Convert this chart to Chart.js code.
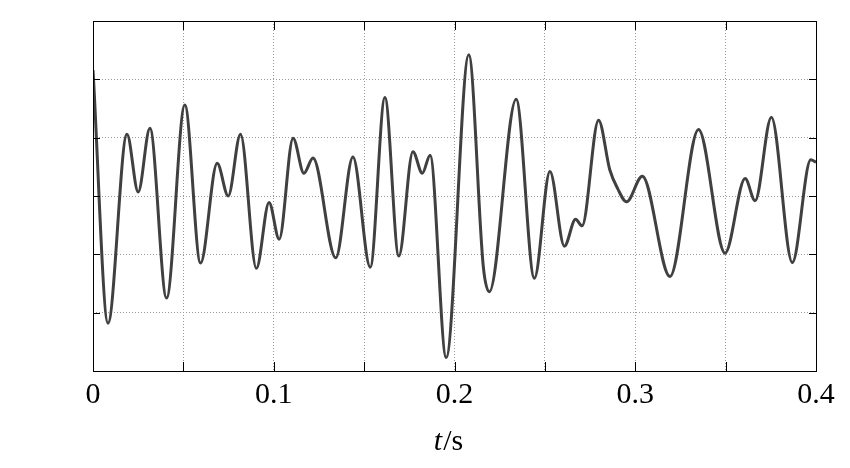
<!DOCTYPE html>
<html>
<head>
<meta charset="utf-8">
<script src="https://cdn.jsdelivr.net/npm/chart.js@4.4.1/dist/chart.umd.min.js"></script>
<style>
  html, body { margin: 0; padding: 0; background: #fff; }
  #wrap { width: 850px; height: 468px; }
</style>
</head>
<body>
<div id="wrap"><canvas id="chart"></canvas></div>
<script>
  // time (s) of each read-off point and signal value (grid units, no labels on y)
  var times = [0, 0.0083, 0.0188, 0.0250, 0.0315, 0.0407, 0.0508, 0.0595, 0.0687, 0.0748,
               0.0816, 0.0904, 0.0974, 0.1030, 0.1107, 0.1167, 0.1217, 0.1343, 0.1438, 0.1534,
               0.1615, 0.1692, 0.1770, 0.1822, 0.1865, 0.1954, 0.2079, 0.2160, 0.2193, 0.2341,
               0.2442, 0.2528, 0.2608, 0.2670, 0.2706, 0.2797, 0.2859, 0.2902, 0.2952, 0.3039,
               0.3192, 0.3350, 0.3497, 0.3608, 0.3663, 0.3753, 0.3869, 0.3971, 0.4];
  var values = [2.16, -2.18, 1.06, 0.07, 1.16, -1.75, 1.56, -1.15, 0.56, 0.0,
                1.06, -1.24, -0.11, -0.74, 0.99, 0.39, 0.65, -1.06, 0.67, -1.22,
                1.69, -1.03, 0.76, 0.39, 0.70, -2.77, 2.42, -1.23, -1.64, 1.66,
                -1.41, 0.42, -0.86, -0.40, -0.51, 1.30, 0.45, 0.13, -0.10, 0.34,
                -1.38, 1.14, -0.98, 0.30, -0.08, 1.35, -1.14, 0.62, 0.58];
  var xTicks = [0, 0.05, 0.1, 0.15, 0.2, 0.25, 0.3, 0.35, 0.4];
  var xLabels = ["0", "", "0.1", "", "0.2", "", "0.3", "", "0.4"];
  var yTicks = [-3, -2, -1, 0, 1, 2, 3];

  var points = [];
  for (var i = 0; i < times.length; i++) {
      points.push({x: times[i], y: values[i]});
  }

  var serif = '"Liberation Serif", "Times New Roman", serif';

  // box, inward ticks and the axis title
  var framePlugin = {
      id: "frame",
      afterDraw: function(chart) {
          var ctx = chart.ctx;
          var a = chart.chartArea;
          var xs = chart.scales.x, ys = chart.scales.y;
          ctx.save();
          ctx.strokeStyle = "#000";
          ctx.lineWidth = 1;
          ctx.setLineDash([]);
          ctx.beginPath();
          xTicks.forEach(function(t) {
              var px = Math.round(xs.getPixelForValue(t)) + 0.5;
              ctx.moveTo(px, a.bottom); ctx.lineTo(px, a.bottom - 9);
              ctx.moveTo(px, a.top); ctx.lineTo(px, a.top + 9);
          });
          yTicks.forEach(function(v) {
              var py = Math.round(ys.getPixelForValue(v)) + 0.5;
              ctx.moveTo(a.left, py); ctx.lineTo(a.left + 7, py);
              ctx.moveTo(a.right, py); ctx.lineTo(a.right - 7, py);
          });
          ctx.stroke();
          ctx.strokeRect(Math.round(a.left) + 0.5, Math.round(a.top) + 0.5,
                         Math.round(a.right - a.left), Math.round(a.bottom - a.top));

          ctx.fillStyle = "#000";
          ctx.textBaseline = "alphabetic";
          ctx.textAlign = "left";
          ctx.font = "italic 30px " + serif;
          var w1 = ctx.measureText("t").width;
          ctx.font = "30px " + serif;
          var w2 = ctx.measureText("/s").width;
          var x0 = 448 - (w1 + w2) / 2;
          ctx.font = "italic 30px " + serif;
          ctx.fillText("t", x0, 450);
          ctx.font = "30px " + serif;
          ctx.fillText("/s", x0 + w1 + 1, 450);
          ctx.restore();
      }
  };

  new Chart("chart", {
      type: "line",
      data: {
          datasets: [{
              data: points,
              borderColor: "#404040",
              borderWidth: 3,
              pointRadius: 0,
              cubicInterpolationMode: "monotone",
              fill: false
          }]
      },
      options: {
          responsive: true,
          maintainAspectRatio: false,
          animation: false,
          layout: { padding: { left: 93, right: 34, top: 21, bottom: 0 } },
          plugins: { legend: { display: false }, tooltip: { enabled: false } },
          scales: {
              x: {
                  type: "linear",
                  min: 0,
                  max: 0.4,
                  afterBuildTicks: function(s) { s.ticks = xTicks.map(function(v) { return {value: v}; }); },
                  afterFit: function(s) { s.height = 97; },
                  ticks: {
                      autoSkip: false,
                      maxRotation: 0,
                      padding: 6,
                      color: "#000",
                      font: { family: serif, size: 30 },
                      callback: function(v, idx) { return xLabels[idx]; }
                  },
                  grid: { color: "#9a9a9a", lineWidth: 1, drawTicks: false },
                  border: { display: false, dash: [1, 2] }
              },
              y: {
                  min: -3,
                  max: 3,
                  afterBuildTicks: function(s) { s.ticks = yTicks.map(function(v) { return {value: v}; }); },
                  afterFit: function(s) { s.width = 0; },
                  ticks: { display: false },
                  grid: { color: "#9a9a9a", lineWidth: 1, drawTicks: false },
                  border: { display: false, dash: [1, 2] }
              }
          }
      },
      plugins: [framePlugin]
  });
</script>
</body>
</html>
